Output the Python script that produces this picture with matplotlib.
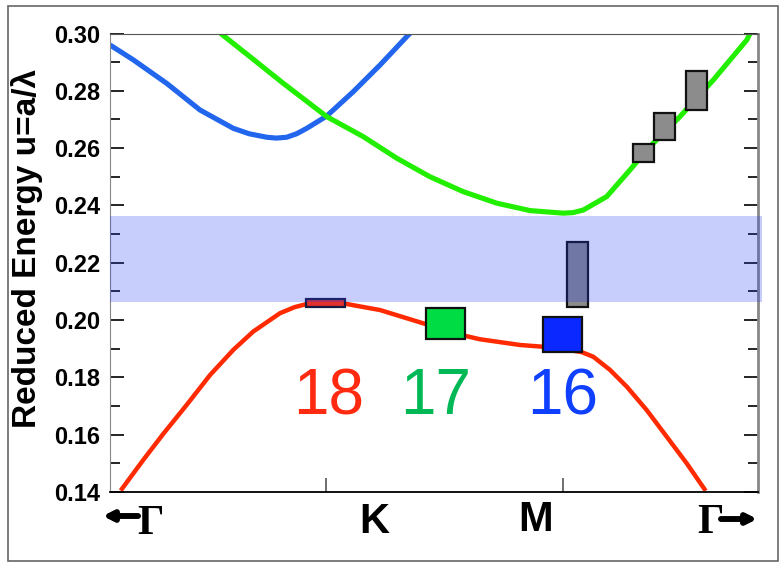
import numpy as np
import matplotlib.pyplot as plt
from matplotlib.patches import Rectangle

# path coordinate 0..1 along Gamma-K-M-Gamma, energy u=a/lambda
red_x = [0.0165, 0.0514, 0.0823, 0.1184, 0.1544, 0.1904, 0.2212, 0.2625, 0.2850, 0.3037, 0.3397,
         0.3655, 0.4169, 0.4874, 0.5481, 0.5713, 0.6330, 0.6681, 0.6994, 0.7283, 0.7462,
         0.7720, 0.7977, 0.8286, 0.8595, 0.8904, 0.9197]
red_y = [0.1405, 0.1512, 0.1603, 0.1704, 0.1808, 0.1896, 0.1960, 0.2024, 0.2045, 0.2056, 0.2063,
         0.2056, 0.2035, 0.1986, 0.1945, 0.1933, 0.1913, 0.1907, 0.1899, 0.1888, 0.1872,
         0.1826, 0.1768, 0.1686, 0.1593, 0.1500, 0.1404]

blue_x = [0.0, 0.0360, 0.0875, 0.1390, 0.1904, 0.2150, 0.2419, 0.2570, 0.2728, 0.2880, 0.3037,
          0.3346, 0.3756, 0.4169, 0.4606, 0.4635]
blue_y = [0.2960, 0.2908, 0.2826, 0.2733, 0.2669, 0.2650, 0.2638, 0.2635, 0.2638, 0.2650, 0.2669,
          0.2712, 0.2797, 0.2890, 0.2995, 0.3000]

green_x = [0.1710, 0.2162, 0.2676, 0.3346, 0.3911, 0.4426, 0.4941, 0.5455, 0.5970, 0.6485,
           0.6999, 0.7150, 0.7308, 0.7669, 0.8029, 0.8286, 0.8800, 0.9315, 0.9830, 0.9881]
green_y = [0.3000, 0.2919, 0.2826, 0.2710, 0.2640, 0.2565, 0.2500, 0.2448, 0.2408, 0.2382,
           0.2373, 0.2375, 0.2384, 0.2431, 0.2524, 0.2594, 0.2710, 0.2838, 0.2977, 0.3000]

# boxes: x0, x1, y0, y1
box_x0 = [0.3026, 0.4874, 0.6680, 0.7056, 0.8080, 0.8400, 0.8900]
box_x1 = [0.3628, 0.5481, 0.7292, 0.7375, 0.8400, 0.8720, 0.9210]
box_y0 = [0.2045, 0.1933, 0.1889, 0.2045, 0.2552, 0.2628, 0.2732]
box_y1 = [0.2075, 0.2043, 0.2010, 0.2271, 0.2614, 0.2722, 0.2870]
box_fill = ['#e2302c', '#00dd44', '#0a28ff', '#8c8c8c', '#8c8c8c', '#8c8c8c', '#8c8c8c']
box_edge = ['#1a1a40', '#111111', '#111111', '#111111', '#111111', '#111111', '#111111']

gap_lo, gap_hi = 0.2063, 0.2363

band_labels = ['18', '17', '16']
band_label_x = [0.338, 0.503, 0.699]
band_label_y = 0.1672
band_label_col = ['#ff2a10', '#00b855', '#1040ff']

k_ticks = [0.333, 0.700]

fig = plt.figure(figsize=(7.84, 5.62), dpi=100)
ax = fig.add_axes([110/784, 1-492/562, 647.7/784, 458.5/562])

ax.plot(blue_x, blue_y, color='#2266ee', lw=3.7, solid_capstyle='butt',
        solid_joinstyle='round', zorder=2)
ax.plot(green_x, green_y, color='#22ee00', lw=3.7, solid_capstyle='butt',
        solid_joinstyle='round', zorder=2)
ax.plot(red_x, red_y, color='#ff2a00', lw=3.2, solid_capstyle='butt',
        solid_joinstyle='round', zorder=2)

for x0, x1, y0, y1, fc, ec in zip(box_x0, box_x1, box_y0, box_y1, box_fill, box_edge):
    ax.add_patch(Rectangle((x0, y0), x1-x0, y1-y0, facecolor=fc, edgecolor=ec,
                           lw=1.6, zorder=3))

ax.axhspan(gap_lo, gap_hi, xmin=0, xmax=1.006, color=(35/255, 60/255, 240/255),
           alpha=0.25, lw=0, zorder=4, clip_on=False)

for t, x, c in zip(band_labels, band_label_x, band_label_col):
    ax.text(x, band_label_y, t, color=c, fontsize=46, family='Liberation Sans',
            ha='center', va='baseline', zorder=5)

ax.set_xlim(0, 1)
ax.set_ylim(0.14, 0.30)
ax.set_yticks(np.arange(0.14, 0.301, 0.02))
ax.set_yticks(np.arange(0.15, 0.30, 0.02), minor=True)
ax.set_yticklabels(['%.2f' % v for v in np.arange(0.14, 0.301, 0.02)],
                   fontsize=17, fontweight='bold', family='Liberation Sans')
ax.set_xticks(k_ticks)
ax.set_xticklabels([])
ax.tick_params(axis='y', which='major', direction='in', length=10, width=1.2,
               color='black', right=True, pad=7)
ax.tick_params(axis='y', which='minor', direction='in', length=7, width=1.2,
               color='black', right=True)
ax.tick_params(axis='x', direction='in', length=10, width=1.2, color='#555555')

ax.spines['left'].set_color('#888888')
ax.spines['top'].set_color('#555555')
ax.spines['right'].set_color('#888888')
ax.spines['right'].set_linewidth(2)
ax.spines['bottom'].set_color('black')
ax.spines['bottom'].set_linewidth(1.3)

ax.set_ylabel('Reduced Energy u=a/λ', fontsize=24, fontweight='bold',
              family='Liberation Sans')
ax.yaxis.set_label_coords(-0.104, 0.532)

# path labels
fig.text(374/784, 1-533/562, 'K', fontsize=30, fontweight='bold',
         family='Liberation Sans', ha='center', va='baseline')
fig.text(536/784, 1-531/562, 'M', fontsize=30, fontweight='bold',
         family='Liberation Sans', ha='center', va='baseline')
fig.text(151/784, 1-534/562, 'Γ', fontsize=30, fontweight='bold',
         family='Liberation Serif', ha='center', va='baseline')
fig.text(710/784, 1-533/562, 'Γ', fontsize=30, fontweight='bold',
         family='Liberation Serif', ha='center', va='baseline')
fig.add_artist(plt.annotate('', xy=(103/784, 1-516/562), xytext=(138/784, 1-516/562),
                            xycoords='figure fraction',
                            arrowprops=dict(arrowstyle='-|>', lw=4, color='black',
                                            mutation_scale=14, shrinkA=0, shrinkB=0)))
fig.add_artist(plt.annotate('', xy=(757/784, 1-519/562), xytext=(721/784, 1-519/562),
                            xycoords='figure fraction',
                            arrowprops=dict(arrowstyle='-|>', lw=4, color='black',
                                            mutation_scale=14, shrinkA=0, shrinkB=0)))

fig.add_artist(Rectangle((8/784, 1-561/562), 770/784, 555/562, transform=fig.transFigure,
                         fill=False, edgecolor='#666666', lw=1.2))

fig.savefig('out.png', dpi=100)
